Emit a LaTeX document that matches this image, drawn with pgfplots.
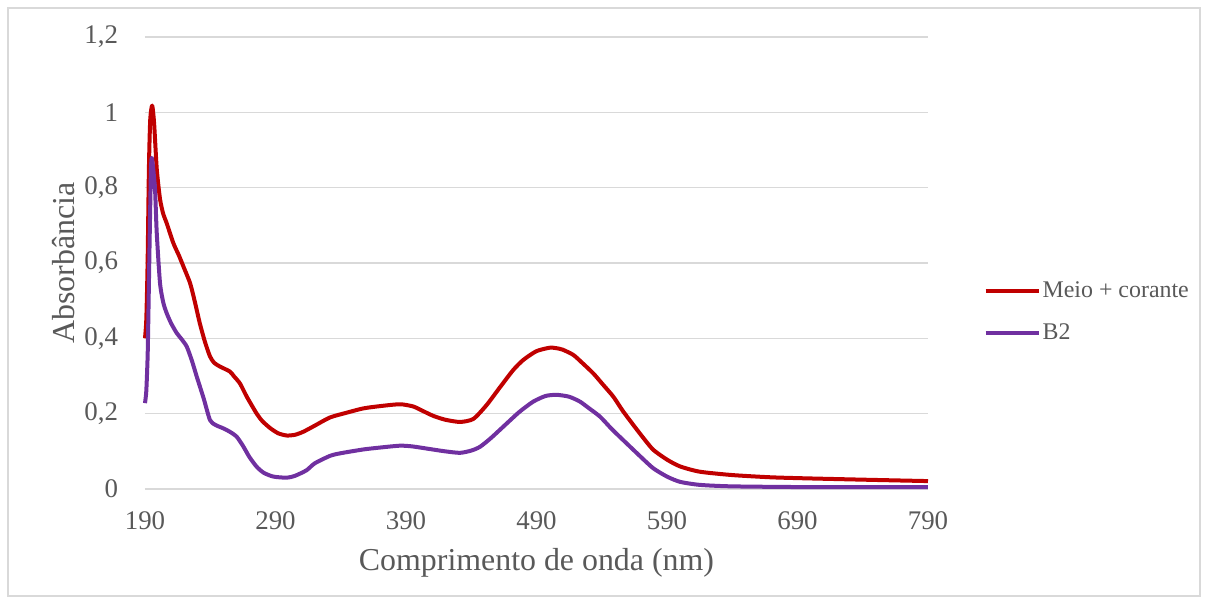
\documentclass[border=0pt]{standalone}
\usepackage{pgfplots}
\pgfplotsset{compat=1.18}
\usepackage{fontspec}
\setmainfont{Liberation Serif}
\definecolor{txtgray}{HTML}{595959}
\definecolor{gridgray}{HTML}{D9D9D9}
\definecolor{redline}{HTML}{C00000}
\definecolor{purpleline}{HTML}{7030A0}
\begin{document}
\begin{tikzpicture}
\useasboundingbox (-72.5bp,-57.5bp) rectangle (531.5bp,244.5bp);
\draw[gridgray, line width=0.75bp] (-68.5bp,-53.5bp) rectangle (527.5bp,240.5bp);
\begin{axis}[
  scale only axis,
  width=391.5bp, height=226bp,
  xmin=190, xmax=790, ymin=0, ymax=1.2,
  xtick={190,290,...,790},
  ytick={0,0.2,...,1.2},
  yticklabels={0,{0,2},{0,4},{0,6},{0,8},1,{1,2}},
  axis line style={draw=none},
  major tick length=0pt,
  ymajorgrids,
  grid style={gridgray, line width=0.75bp},
  /pgf/number format/assume math mode=true,
  tick label style={font=\fontsize{13.5}{15}\selectfont, text=txtgray},
  xticklabel style={yshift=-8bp},
  yticklabel style={xshift=-10bp},
  xlabel={Comprimento de onda (nm)},
  ylabel={Absorbância},
  label style={font=\fontsize{16}{19}\selectfont, text=txtgray},
  xlabel style={at={(0.5,0)}, anchor=center, yshift=-37bp},
  ylabel style={at={(-0.1034,0.5)}, anchor=center},
  legend style={at={(1.0705,0.392)}, anchor=west, draw=none, fill=none,
    font=\fontsize{12}{14}\selectfont, text=txtgray, inner sep=0pt,
    row sep=9.5bp, nodes={inner sep=1pt}},
  legend cell align=left,
  legend image code/.code={\draw[#1] (0bp,0bp) -- (26.5bp,0bp);},
  clip=false,
]
\addplot[redline, line width=2bp, smooth, tension=0.4, line join=round] coordinates {
(190,0.40) (191,0.45) (192,0.60) (193,0.85) (194,0.98) (195.5,1.018) (197,0.97) (199,0.85)
(201.5,0.77) (204,0.73) (206.6,0.706) (211.7,0.653) (216,0.62) (219.4,0.591) (224.5,0.547)
(228,0.50) (232,0.44) (236,0.39) (239.8,0.352) (243,0.335) (247.5,0.325) (255,0.312)
(258,0.30) (262.8,0.28) (268,0.245) (275.6,0.20) (280,0.18) (285.8,0.162) (292,0.148)
(298.6,0.142) (305,0.144) (311.3,0.152) (320,0.168) (331.8,0.19) (345,0.203) (357.3,0.214)
(370,0.22) (385.4,0.225) (395.6,0.219) (403,0.207) (411,0.194) (420,0.184) (431.4,0.178)
(441.6,0.186) (451.8,0.223) (462,0.27) (472.2,0.316) (480,0.343) (490,0.366) (500,0.375)
(505,0.374) (510,0.37) (518.2,0.356) (525,0.335) (533.5,0.307) (541,0.277) (548.9,0.245)
(556,0.208) (564.2,0.17) (572,0.135) (579.5,0.104) (590,0.078) (600,0.06) (615,0.046)
(640,0.037) (670,0.031) (700,0.028) (750,0.024) (790,0.021)
};
\addlegendentry{Meio + corante}
\addplot[purpleline, line width=2bp, smooth, tension=0.4, line join=round] coordinates {
(190,0.228) (191,0.26) (192,0.35) (192.5,0.44) (193.5,0.65) (194.5,0.84) (195.1,0.879)
(196,0.86) (197.7,0.795) (199,0.68) (201.5,0.547) (204,0.495) (206.6,0.467) (210,0.44)
(214.3,0.414) (218,0.398) (222,0.378) (226,0.34) (229.6,0.299) (235,0.24) (239.8,0.183)
(244,0.17) (250,0.161) (255,0.152) (260.2,0.139) (265,0.115) (270,0.085) (275.6,0.059)
(281,0.043) (288.3,0.033) (298.6,0.030) (305,0.035) (313.9,0.05) (320,0.068) (331.8,0.088)
(340,0.095) (357.3,0.105) (370,0.11) (385.4,0.115) (395,0.113) (408.4,0.106) (420,0.10)
(431.4,0.096) (440,0.102) (446.7,0.112) (455,0.135) (467.2,0.174) (477,0.205) (487.5,0.232)
(497,0.247) (505.5,0.25) (515,0.245) (523.3,0.232) (530,0.215) (538.7,0.192) (548,0.158)
(559.1,0.121) (570,0.085) (579.5,0.055) (590,0.033) (600,0.019) (615,0.011) (640,0.007)
(700,0.005) (790,0.005)
};
\addlegendentry{B2}
\end{axis}
\end{tikzpicture}
\end{document}
